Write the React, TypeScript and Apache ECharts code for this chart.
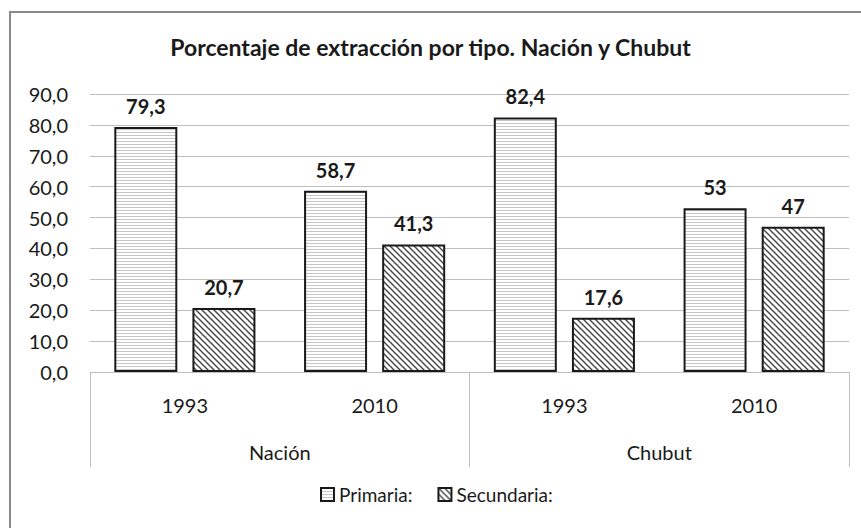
import React, { useEffect, useRef } from "react";
import * as echarts from "echarts";

const titleText = "Porcentaje de extracción por tipo. Nación y Chubut";
const categories = ["1993", "2010", "1993", "2010"];
const groups = ["Nación", "Chubut"];
const seriesNames = ["Primaria:", "Secundaria:"];
const primaria = [79.3, 58.7, 82.4, 53];
const secundaria = [20.7, 41.3, 17.6, 47];
const yMin = 0;
const yMax = 90;
const yInterval = 10;

const FONT = "Lato, 'Open Sans', sans-serif";

function makeHorizontalPattern() {
  const c = document.createElement("canvas");
  c.width = 4;
  c.height = 3;
  const ctx = c.getContext("2d")!;
  ctx.fillStyle = "#ffffff";
  ctx.fillRect(0, 0, 4, 3);
  ctx.fillStyle = "#c6c6c6";
  ctx.fillRect(0, 0, 4, 1);
  return { image: c.toDataURL(), repeat: "repeat", imageWidth: 4, imageHeight: 3 };
}

function makeDiagonalPattern() {
  const s = 6;
  const c = document.createElement("canvas");
  c.width = s;
  c.height = s;
  const ctx = c.getContext("2d")!;
  ctx.fillStyle = "#ffffff";
  ctx.fillRect(0, 0, s, s);
  ctx.strokeStyle = "#4a4a4a";
  ctx.lineWidth = 1.5;
  for (const off of [-s, 0, s]) {
    ctx.beginPath();
    ctx.moveTo(off - 1, -1);
    ctx.lineTo(off + s + 1, s + 1);
    ctx.stroke();
  }
  return { image: c.toDataURL(), repeat: "repeat", imageWidth: s, imageHeight: s };
}

const fmt = (v: number) => String(v).replace(".", ",");

export default function App() {
  const ref = useRef<HTMLDivElement>(null);
  useEffect(() => {
    if (!ref.current) return;
    const chart = echarts.init(ref.current, undefined, { renderer: "svg" });
    const horiz = makeHorizontalPattern();
    const diag = makeDiagonalPattern();
    const labelStyle = {
      show: true,
      position: "top",
      distance: 11,
      fontFamily: FONT,
      fontSize: 20,
      fontWeight: "bold",
      color: "#1a1a1a",
      formatter: (p: any) => fmt(p.value),
    };
    chart.setOption({
      animation: false,
      backgroundColor: "#ffffff",
      title: {
        text: titleText,
        left: "center",
        top: 35,
        padding: 0,
        textStyle: { fontFamily: FONT, fontSize: 23, fontWeight: "bold", color: "#1a1a1a" },
      },
      graphic: [
        {
          type: "rect",
          silent: true,
          z: -10,
          shape: { x: 10, y: 12, width: 900, height: 600 },
          style: { fill: "none", stroke: "#8a8a8a", lineWidth: 2 },
        },
      ],
      legend: {
        left: 320,
        top: 485,
        padding: 0,
        icon: "rect",
        itemWidth: 13,
        itemHeight: 13,
        itemGap: 25,
        textStyle: { fontFamily: FONT, fontSize: 19, color: "#1a1a1a" },
        data: seriesNames,
      },
      grid: { left: 90, right: 12, top: 94, bottom: 156, containLabel: false },
      xAxis: [
        {
          type: "category",
          data: categories,
          position: "bottom",
          axisLine: { show: true, lineStyle: { color: "#bfbfbf", width: 1 } },
          axisTick: { show: false },
          splitLine: { show: false },
          axisLabel: { margin: 23, fontFamily: FONT, fontSize: 20, color: "#1a1a1a" },
        },
        {
          type: "category",
          data: groups,
          position: "bottom",
          offset: 0,
          axisLine: { show: false },
          axisTick: { show: true, length: 95, lineStyle: { color: "#bfbfbf", width: 1 } },
          splitLine: { show: false },
          axisLabel: { margin: 70, fontFamily: FONT, fontSize: 20, color: "#1a1a1a" },
        },
      ],
      yAxis: {
        type: "value",
        min: yMin,
        max: yMax,
        interval: yInterval,
        axisLine: { show: false },
        axisTick: { show: false },
        splitLine: { show: true, lineStyle: { color: "#bfbfbf", width: 1 } },
        axisLabel: {
          margin: 22,
          fontFamily: FONT,
          fontSize: 20,
          color: "#1a1a1a",
          formatter: (v: number) => v.toFixed(1).replace(".", ","),
        },
      },
      series: [
        {
          name: seriesNames[0],
          type: "bar",
          xAxisIndex: 0,
          data: primaria,
          barWidth: 63,
          barGap: "24%",
          itemStyle: { color: horiz, borderColor: "#1a1a1a", borderWidth: 2 },
          label: labelStyle,
        },
        {
          name: seriesNames[1],
          type: "bar",
          xAxisIndex: 0,
          data: secundaria,
          barWidth: 63,
          barGap: "24%",
          itemStyle: { color: diag, borderColor: "#1a1a1a", borderWidth: 2 },
          label: labelStyle,
        },
      ],
    });
    return () => chart.dispose();
  }, []);
  return (
    <div
      ref={ref}
      style={{ position: "absolute", left: 0, top: 0, width: 861, height: 528 }}
    />
  );
}
